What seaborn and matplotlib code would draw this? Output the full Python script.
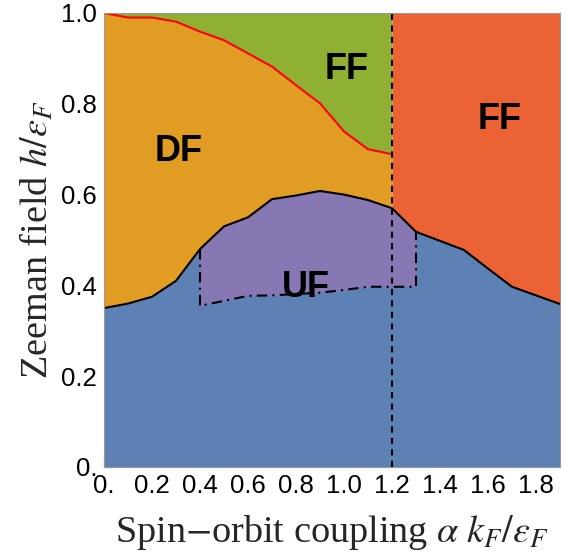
import numpy as np
import matplotlib
matplotlib.use("Agg")
import matplotlib.pyplot as plt
import seaborn as sns
import pandas as pd

# ---- data ----
x_grid = [0.0, 0.1, 0.2, 0.3, 0.4, 0.5, 0.6, 0.7, 0.8, 0.9, 1.0,
          1.1, 1.2, 1.3, 1.4, 1.5, 1.6, 1.7, 1.8, 1.9]
h_lower = [0.35, 0.36, 0.375, 0.41, 0.48, 0.53, 0.55, 0.59, 0.598, 0.608, 0.60,
           0.588, 0.57, 0.518, 0.498, 0.478, 0.437, 0.397, 0.378, 0.359]
x_red = [0.0, 0.1, 0.2, 0.3, 0.4, 0.5, 0.6, 0.7, 0.8, 0.9, 1.0, 1.1, 1.2]
h_red = [1.0, 0.99, 0.99, 0.981, 0.959, 0.94, 0.911, 0.882, 0.841, 0.801,
         0.739, 0.70, 0.689]
x_uf = [0.4, 0.5, 0.6, 0.7, 0.8, 0.9, 1.0, 1.1, 1.2, 1.3]
h_uf_low = [0.355, 0.366, 0.377, 0.378, 0.381, 0.384, 0.390, 0.397, 0.397, 0.397]
x_crit = 1.2
phase_labels = ["DF", "FF", "FF", "UF"]
label_pos = [(0.31, 0.695), (1.01, 0.875), (1.65, 0.765), (0.84, 0.395)]
x_ticks = [0.0, 0.2, 0.4, 0.6, 0.8, 1.0, 1.2, 1.4, 1.6, 1.8]
x_ticklabels = ["0.", "0.2", "0.4", "0.6", "0.8", "1.0", "1.2", "1.4", "1.6", "1.8"]
y_ticks = [0.0, 0.2, 0.4, 0.6, 0.8, 1.0]
y_ticklabels = ["0.", "0.2", "0.4", "0.6", "0.8", "1.0"]

C_BLUE, C_ORANGE, C_GREEN, C_RED, C_PURPLE = "#5E81B5", "#E19C24", "#8FB032", "#EB6235", "#8778B3"

sns.set_theme(style="ticks")
plt.rcParams["font.family"] = ["Liberation Sans", "DejaVu Sans"]
plt.rcParams["mathtext.fontset"] = "stix"

fig = plt.figure(figsize=(5.69, 5.58), dpi=100)
ax = fig.add_axes([104/569, 91/558, (560-104)/569, (545-91)/558])

xg = np.array(x_grid); hl = np.array(h_lower)
xr = np.array(x_red); hr = np.array(h_red)
left = xg <= x_crit + 1e-9
right = xg >= x_crit - 1e-9

ax.fill_between(xg, 0, hl, color=C_BLUE, lw=0)
ax.fill_between(xr, hl[left], hr, color=C_ORANGE, lw=0)
ax.fill_between(xr, hr, 1.0, color=C_GREEN, lw=0)
ax.fill_between(xg[right], hl[right], 1.0, color=C_RED, lw=0)
uf_mask = (xg >= 0.4 - 1e-9) & (xg <= 1.3 + 1e-9)
ax.fill_between(np.array(x_uf), np.array(h_uf_low), hl[uf_mask], color=C_PURPLE, lw=0)

df_low = pd.DataFrame({"x": x_grid, "h": h_lower})
df_red = pd.DataFrame({"x": x_red, "h": h_red})
sns.lineplot(data=df_low, x="x", y="h", ax=ax, color="black", lw=1.5, sort=False)
sns.lineplot(data=df_red, x="x", y="h", ax=ax, color="red", lw=1.5, sort=False)

# UF dash-dot boundary
uf_x = [x_uf[0]] + x_uf + [x_uf[-1]]
uf_y = [hl[uf_mask][0]] + h_uf_low + [hl[uf_mask][-1]]
ax.plot(uf_x, uf_y, color="black", lw=1.5, ls=(0, (5, 2.5, 1, 2.5)))

ax.plot([x_crit, x_crit], [0, 1], color="black", lw=1.5, ls=(0, (3, 2.5)))

for t, (px, py) in zip(phase_labels, label_pos):
    ax.text(px, py, t, fontsize=26, fontweight="bold", ha="center", va="center", color="black")

ax.set_xlim(0, 1.9)
ax.set_ylim(0, 1.0)
ax.set_xticks(x_ticks)
ax.set_xticklabels(x_ticklabels)
ax.set_yticks(y_ticks)
ax.set_yticklabels(y_ticklabels)
ax.set_xticks(np.arange(0.1, 1.9, 0.2), minor=True)
ax.set_yticks(np.arange(0.1, 1.0, 0.2), minor=True)
ax.tick_params(axis="both", which="both", direction="in", colors="#555555",
               labelcolor="black", labelsize=18.5, top=False, right=False)
ax.tick_params(which="major", length=6, width=0.8, pad=5)
ax.tick_params(which="minor", length=3.5, width=0.8)
for s in ax.spines.values():
    s.set_color("#999999"); s.set_linewidth(0.8)

ax.set_xlabel(r"Spin$-$orbit coupling $\alpha\ k_F/\varepsilon_F$", fontsize=27.5,
              family="Liberation Serif", labelpad=11)
ax.set_ylabel(r"Zeeman field $h/\varepsilon_F$", fontsize=27.5,
              family="Liberation Serif", labelpad=4)

fig.savefig("out.png", dpi=100)
